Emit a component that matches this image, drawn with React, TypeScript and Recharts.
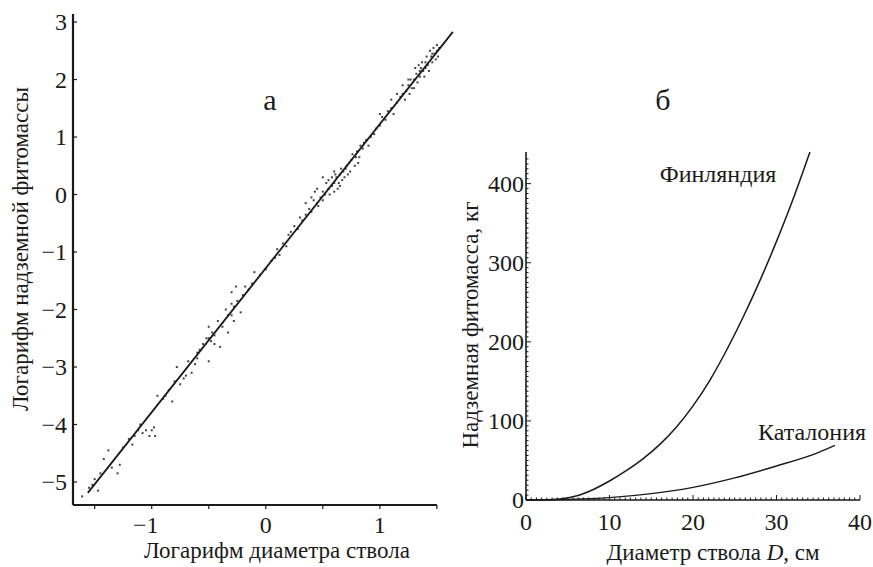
import React from "react";
import {
  ScatterChart,
  Scatter,
  LineChart,
  Line,
  XAxis,
  YAxis,
  ReferenceLine,
} from "recharts";

// panel a: log-log scatter + fitted line
const logPoints: [number, number][] = [
  [-1.61, -5.25], [-1.55, -5.1], [-1.52, -5.05], [-1.5, -4.95], [-1.47, -5.15], [-1.45, -4.85],
  [-1.42, -4.6], [-1.38, -4.45], [-1.35, -4.75], [-1.3, -4.85], [-1.28, -4.7], [-1.25, -4.4],
  [-1.2, -4.25], [-1.17, -4.35], [-1.15, -4.2], [-1.12, -4.1], [-1.1, -4.0], [-1.08, -4.15],
  [-1.05, -4.1], [-1.02, -4.2], [-1.0, -4.1], [-0.98, -4.05], [-0.97, -4.2], [-0.95, -3.5],
  [-0.9, -3.55], [-0.88, -3.5], [-0.85, -3.4], [-0.82, -3.6], [-0.8, -3.25], [-0.78, -3.0],
  [-0.75, -3.3], [-0.72, -3.2], [-0.7, -3.15], [-0.68, -2.9], [-0.65, -3.1], [-0.62, -2.95],
  [-0.6, -2.75], [-0.6, -2.85], [-0.58, -2.7], [-0.55, -2.6], [-0.52, -2.5], [-0.5, -2.9],
  [-0.5, -2.3], [-0.5, -2.5], [-0.48, -2.55], [-0.47, -2.4], [-0.45, -2.45], [-0.45, -2.6],
  [-0.42, -2.2], [-0.4, -2.65], [-0.38, -2.3], [-0.35, -2.0], [-0.33, -2.4], [-0.33, -2.1],
  [-0.3, -1.7], [-0.3, -2.1], [-0.3, -1.9], [-0.28, -1.95], [-0.28, -2.2], [-0.26, -1.6],
  [-0.25, -1.85], [-0.22, -2.05], [-0.2, -1.75], [-0.18, -1.6], [-0.15, -1.65], [-0.12, -1.55],
  [-0.1, -1.35], [-0.05, -1.4], [0, -1.3], [0.05, -1.15], [0.08, -1.1], [0.1, -0.95],
  [0.12, -1.05], [0.15, -0.85], [0.18, -0.9], [0.2, -0.7], [0.22, -0.65], [0.25, -0.55],
  [0.28, -0.6], [0.3, -0.4], [0.32, -0.45], [0.35, -0.35], [0.35, -0.15], [0.38, -0.25],
  [0.4, -0.3], [0.4, -0.05], [0.42, -0.1], [0.43, 0.05], [0.45, -0.15], [0.45, 0.1],
  [0.46, -0.2], [0.48, -0.05], [0.5, 0.05], [0.5, -0.1], [0.5, 0.3], [0.52, 0.0],
  [0.53, 0.2], [0.55, 0.1], [0.55, 0.25], [0.56, 0.0], [0.58, 0.15], [0.58, 0.3],
  [0.6, 0.2], [0.6, 0.05], [0.6, 0.4], [0.61, 0.35], [0.62, 0.3], [0.63, 0.1],
  [0.64, 0.2], [0.65, 0.35], [0.65, 0.15], [0.66, 0.45], [0.67, 0.25], [0.68, 0.4],
  [0.69, 0.3], [0.7, 0.45], [0.71, 0.5], [0.72, 0.35], [0.73, 0.55], [0.74, 0.4],
  [0.75, 0.6], [0.76, 0.7], [0.78, 0.5], [0.79, 0.65], [0.8, 0.75], [0.81, 0.55],
  [0.82, 0.65], [0.83, 0.85], [0.85, 0.8], [0.86, 0.9], [0.88, 0.95], [0.9, 0.85],
  [0.92, 1.0], [0.95, 1.05], [0.97, 1.15], [1.0, 1.2], [1.0, 1.4], [1.02, 1.35],
  [1.05, 1.3], [1.07, 1.45], [1.1, 1.5], [1.1, 1.65], [1.12, 1.4], [1.15, 1.6],
  [1.15, 1.75], [1.18, 1.7], [1.2, 1.75], [1.2, 1.9], [1.22, 1.65], [1.23, 1.8],
  [1.25, 1.9], [1.25, 2.0], [1.26, 1.75], [1.27, 2.0], [1.28, 1.85], [1.3, 2.0],
  [1.3, 1.85], [1.31, 2.2], [1.32, 2.1], [1.33, 1.95], [1.34, 2.25], [1.35, 2.05],
  [1.35, 2.15], [1.36, 2.2], [1.37, 2.3], [1.38, 2.15], [1.39, 2.05], [1.4, 2.3],
  [1.4, 2.2], [1.41, 2.4], [1.42, 2.25], [1.43, 2.15], [1.44, 2.5], [1.45, 2.4],
  [1.46, 2.3], [1.46, 2.45], [1.47, 2.55], [1.48, 2.45], [1.49, 2.35], [1.5, 2.5],
  [1.5, 2.6], [1.51, 2.4], [1.52, 2.55],
];
const fitLine: [number, number][] = [[-1.56, -5.19], [1.64, 2.83]];
const logXTicks = [-1.5, -1, -0.5, 0, 0.5, 1, 1.5];
const logYTicks = [-5, -4, -3, -2, -1, 0, 1, 2, 3];

// panel б: biomass vs diameter
const finlandD = [0, 2, 4, 6, 8, 10, 12, 14, 16, 18, 20, 22, 24, 26, 28, 30, 32, 34];
const finlandMass = [0, 0.2, 1.3, 5, 13, 24, 37, 52, 70, 92, 119, 151, 189, 231, 277, 327, 381, 440];
const cataloniaD = [0, 5, 10, 15, 20, 25, 30, 35, 37];
const cataloniaMass = [0, 0.8, 3, 8, 16, 28, 43, 60, 69];

const FONT = "'Liberation Serif', 'Times New Roman', 'DejaVu Serif', serif";
const INK = "#1a1a1a";

const scatterData = logPoints.map(([x, y]) => ({ x, y }));
const fitData = fitLine.map(([x, y]) => ({ x, y }));
const finlandData = finlandD.map((d, i) => ({ d, m: finlandMass[i] }));
const cataloniaData = cataloniaD.map((d, i) => ({ d, m: cataloniaMass[i] }));

const bX: number[] = [];
for (let v = 0; v <= 40.001; v += 0.625) bX.push(+v.toFixed(3));
const bY: number[] = [];
for (let v = 0; v <= 436; v += 6.25) bY.push(+v.toFixed(2));

const fmt = (v: number) => (v < 0 ? "\u2212" + Math.abs(v) : String(v));
const txt = { fontFamily: FONT, fontSize: 24, fill: INK };

const LogXTick = ({ x, y, payload }: any) => {
  const v = payload.value;
  return (
    <g>
      <line x1={x} x2={x} y1={y} y2={y + 4} stroke={INK} strokeWidth={1.2} />
      {Number.isInteger(v) && (
        <text x={v < 0 ? x - 6 : x} y={y + 28} textAnchor="middle" style={txt}>
          {fmt(v)}
        </text>
      )}
    </g>
  );
};

const LogYTick = ({ x, y, payload }: any) => (
  <g>
    <line x1={x} x2={x + 4} y1={y} y2={y} stroke={INK} strokeWidth={1.2} />
    <text x={x - 6} y={y} dy={8} textAnchor="end" style={txt}>
      {fmt(payload.value)}
    </text>
  </g>
);

const MassXTick = ({ x, y, payload }: any) => {
  const v = payload.value;
  const major = Math.abs(v % 10) < 1e-6;
  return (
    <g>
      <line x1={x} x2={x} y1={y} y2={y - (major ? 5 : 2.5)} stroke={INK} strokeWidth={1} />
      {major && (
        <text x={x} y={y + 30} textAnchor="middle" style={txt}>
          {v}
        </text>
      )}
    </g>
  );
};

const MassYTick = ({ x, y, payload }: any) => {
  const v = payload.value;
  const major = Math.abs(v % 100) < 1e-6;
  return (
    <g>
      <line x1={x} x2={x + (major ? 5 : 2.5)} y1={y} y2={y} stroke={INK} strokeWidth={1} />
      {major && (
        <text x={x - 2} y={y} dy={8} textAnchor="end" style={txt}>
          {v}
        </text>
      )}
    </g>
  );
};

const Dot = (p: any) => <rect x={p.cx - 1} y={p.cy - 1} width={2} height={2} fill="#444" />;

export default function App() {
  return (
    <div style={{ position: "absolute", left: 0, top: 0, width: 873, height: 567, background: "#fff", fontFamily: FONT }}>
      <div style={{ position: "absolute", left: 0, top: 0 }}>
        <ScatterChart width={460} height={567} margin={{ top: 14, right: 6, bottom: 0, left: 0 }}>
          <XAxis
            type="number"
            dataKey="x"
            domain={[-1.69, 1.65]}
            ticks={logXTicks}
            axisLine={false}
            tickLine={false}
            tickSize={0}
            tickMargin={0}
            height={62}
            tick={<LogXTick />}
          />
          <YAxis
            type="number"
            dataKey="y"
            domain={[-5.4, 3.14]}
            ticks={logYTicks}
            width={73}
            axisLine={{ stroke: INK, strokeWidth: 2.2 }}
            tickLine={false}
            tickSize={0}
            tickMargin={0}
            tick={<LogYTick />}
          />
          <ReferenceLine
            segment={[{ x: -1.69, y: -5.4 }, { x: 1.5, y: -5.4 }]}
            stroke={INK}
            strokeWidth={2.2}
            ifOverflow="visible"
          />
          <Scatter data={scatterData} shape={<Dot />} isAnimationActive={false} />
          <Scatter
            data={fitData}
            line={{ stroke: INK, strokeWidth: 1.8 }}
            shape={() => null}
            isAnimationActive={false}
          />
        </ScatterChart>
      </div>
      <div style={{ position: "absolute", left: 440, top: 0 }}>
        <LineChart width={433} height={567} margin={{ top: 152, right: 13, bottom: 0, left: 0 }}>
          <XAxis
            type="number"
            dataKey="d"
            domain={[0, 40]}
            ticks={bX}
            height={67}
            axisLine={{ stroke: INK, strokeWidth: 1.6 }}
            tickLine={false}
            tickSize={0}
            tickMargin={0}
            tick={<MassXTick />}
            interval={0}
          />
          <YAxis
            type="number"
            dataKey="m"
            domain={[0, 438]}
            ticks={bY}
            width={86}
            axisLine={{ stroke: INK, strokeWidth: 1.6 }}
            tickLine={false}
            tickSize={0}
            tickMargin={0}
            tick={<MassYTick />}
            interval={0}
          />
          <Line data={finlandData} dataKey="m" type="monotone" stroke={INK} strokeWidth={1.5} dot={false} isAnimationActive={false} />
          <Line data={cataloniaData} dataKey="m" type="monotone" stroke={INK} strokeWidth={1.4} dot={false} isAnimationActive={false} />
        </LineChart>
      </div>
      <svg width={873} height={567} style={{ position: "absolute", left: 0, top: 0, pointerEvents: "none" }}>
        <g style={{ fontFamily: FONT, fill: INK }}>
          <text x={20} y={249} fontSize={23} textAnchor="middle" dominantBaseline="central" transform="rotate(-90 20 249)">
            Логарифм надземной фитомассы
          </text>
          <text x={277} y={558} fontSize={23} textAnchor="middle">Логарифм диаметра ствола</text>
          <text x={270} y={110} fontSize={30} textAnchor="middle">а</text>
          <text x={663} y={110} fontSize={30} textAnchor="middle">б</text>
          <text x={470} y={325} fontSize={23} textAnchor="middle" dominantBaseline="central" transform="rotate(-90 470 325)">
            Надземная фитомасса, кг
          </text>
          <text x={713} y={560} fontSize={23} textAnchor="middle">
            Диаметр ствола <tspan fontStyle="italic">D</tspan>, см
          </text>
          <text x={718} y={182} fontSize={24} textAnchor="middle">Финляндия</text>
          <text x={812} y={440} fontSize={24} textAnchor="middle">Каталония</text>
        </g>
      </svg>
    </div>
  );
}
